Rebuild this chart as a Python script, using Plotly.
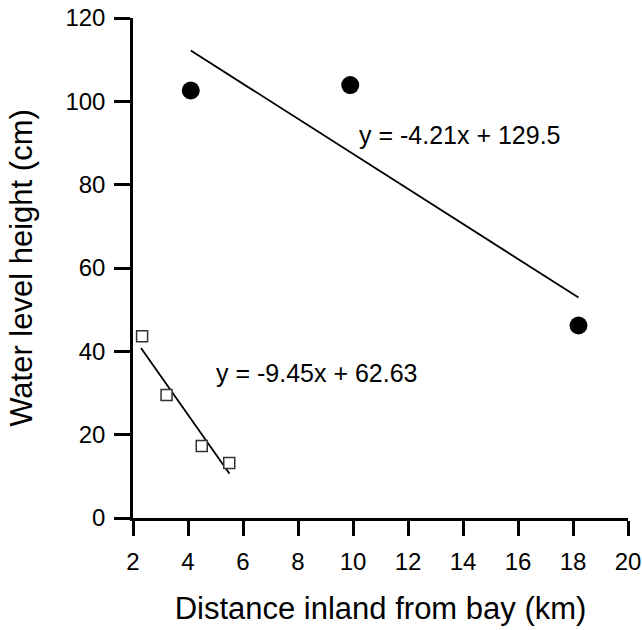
import plotly.graph_objects as go

# Data
circle_x = [4.1, 9.9, 18.2]
circle_y = [102.6, 103.9, 46.2]
square_x = [2.33, 3.22, 4.5, 5.5]
square_y = [43.6, 29.5, 17.3, 13.2]
fit1_x = [4.1, 18.2]
fit1_y = [112.2, 52.9]
fit2_x = [2.29, 5.51]
fit2_y = [40.8, 10.6]
eq1_text = "y = -4.21x + 129.5"
eq2_text = "y = -9.45x + 62.63"
x_ticks = [2, 4, 6, 8, 10, 12, 14, 16, 18, 20]
y_ticks = [0, 20, 40, 60, 80, 100, 120]

FONT = "Liberation Sans, Arial, sans-serif"

fig = go.Figure()
fig.add_trace(go.Scatter(x=fit1_x, y=fit1_y, mode="lines",
                         line=dict(color="black", width=1.8), showlegend=False))
fig.add_trace(go.Scatter(x=fit2_x, y=fit2_y, mode="lines",
                         line=dict(color="black", width=1.8), showlegend=False))
fig.add_trace(go.Scatter(x=circle_x, y=circle_y, mode="markers",
                         marker=dict(symbol="circle", size=18, color="black"),
                         showlegend=False))
fig.add_trace(go.Scatter(x=square_x, y=square_y, mode="markers",
                         marker=dict(symbol="square", size=11, color="white",
                                     line=dict(color="#333333", width=1.5)),
                         showlegend=False))

fig.add_annotation(x=13.9, y=92.0, text=eq1_text, showarrow=False,
                   font=dict(family=FONT, size=25, color="black"))
fig.add_annotation(x=8.68, y=34.8, text=eq2_text, showarrow=False,
                   font=dict(family=FONT, size=25, color="black"))

fig.update_layout(
    width=642, height=630,
    margin=dict(l=133, r=14, t=18, b=112),
    paper_bgcolor="white", plot_bgcolor="white",
    font=dict(family=FONT, color="black"),
)
fig.update_xaxes(
    range=[2, 20], tickvals=x_ticks, ticks="outside", ticklen=15, tickwidth=2.5,
    tickcolor="black", showline=True, linecolor="black", linewidth=2.5,
    showgrid=False, zeroline=False, tickfont=dict(size=24, family=FONT),
    ticklabelstandoff=5, automargin=False, ticklabeloverflow="allow",
    title=dict(text="Distance inland from bay (km)", font=dict(size=31, family=FONT), standoff=24),
)
fig.update_yaxes(
    range=[0, 120], tickvals=y_ticks, ticks="outside", ticklen=16, tickwidth=2.5,
    tickcolor="black", showline=True, linecolor="black", linewidth=2.5,
    showgrid=False, zeroline=False, tickfont=dict(size=24, family=FONT),
    ticklabelstandoff=4, automargin=False, ticklabeloverflow="allow",
    title=dict(text="Water level height (cm)", font=dict(size=31, family=FONT), standoff=24),
)
fig.write_html("out.html", config={"displayModeBar": False},
               post_script="document.body.style.margin='0px';")
